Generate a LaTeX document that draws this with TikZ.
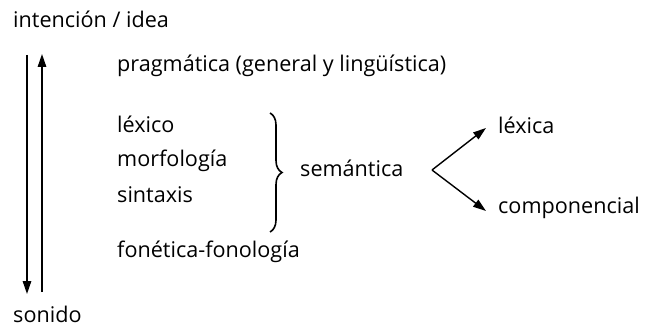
\documentclass[tikz,border=0pt]{standalone}
\usepackage{fontspec}
\setmainfont{Open Sans}
\usetikzlibrary{arrows.meta,decorations.pathreplacing}
\begin{document}
\begin{tikzpicture}[x=1pt,y=-1pt,
  lbl/.style={anchor=base west,inner sep=0pt,font=\fontsize{21.6}{24}\selectfont},
  arr/.style={line width=1.4pt,-{Triangle[length=13pt,width=8.5pt]}},
  bracestyle/.style={line width=1.6pt,decorate,decoration={brace,amplitude=12pt}}]
\useasboundingbox (0,0) rectangle (645,326);
\node[lbl] (idea) at (13,28) {intención / idea};
\node[lbl] (sonido) at (13,322) {sonido};
\node[lbl] (prag) at (117,72) {pragmática (general y lingüística)};
\node[lbl] (lex) at (117,133) {léxico};
\node[lbl] (morf) at (117,167) {morfología};
\node[lbl] (sint) at (117,202) {sintaxis};
\node[lbl] (fon) at (117,257) {fonética-fonología};
\node[lbl] (sem) at (300,176) {semántica};
\node[lbl] (lexica) at (498,134) {léxica};
\node[lbl] (comp) at (498,213) {componencial};
\coordinate (dtop) at (27,55);
\coordinate (dbot) at (27,294);
\coordinate (utop) at (42,54);
\coordinate (ubot) at (42,292);
\coordinate (btop) at (270,113);
\coordinate (bbot) at (270,232);
\coordinate (vtx) at (432,170);
\coordinate (tl) at (486,128);
\coordinate (tc) at (486,211);
\draw[arr] (dtop) -- (dbot);
\draw[arr] (ubot) -- (utop);
\draw[bracestyle] (btop) -- (bbot);
\draw[arr] (vtx) -- (tl);
\draw[arr] (vtx) -- (tc);
\end{tikzpicture}
\end{document}
